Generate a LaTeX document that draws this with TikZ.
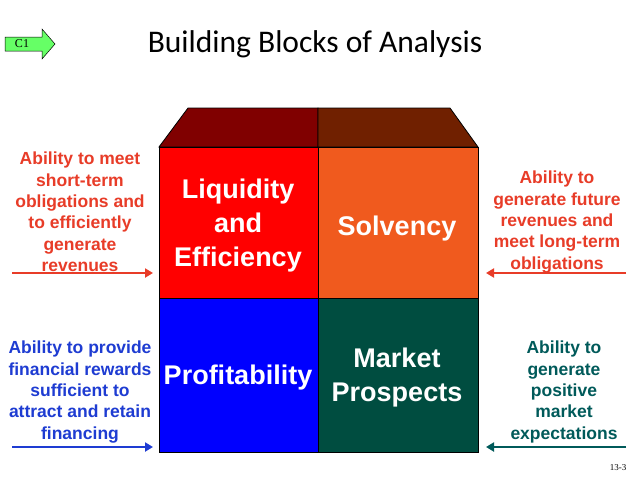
\documentclass[tikz,border=0pt]{standalone}
\usepackage{fontspec}
\setmainfont{Liberation Sans}
\newfontfamily\titlefont{Carlito}
\newfontfamily\serifont{Liberation Serif}
\usetikzlibrary{arrows.meta}
\definecolor{cred}{RGB}{255,0,0}
\definecolor{corange}{RGB}{240,90,30}
\definecolor{cblue}{RGB}{0,0,255}
\definecolor{cteal}{RGB}{0,77,64}
\definecolor{tdark}{RGB}{128,0,0}
\definecolor{tbrown}{RGB}{112,32,0}
\definecolor{tred}{RGB}{232,60,40}
\definecolor{tblue}{RGB}{30,60,210}
\definecolor{tteal}{RGB}{0,90,90}
\definecolor{cgreen}{RGB}{102,255,102}
\begin{document}
\begin{tikzpicture}[x=1pt,y=-1pt,
  blk/.style={draw=black,line width=0.8pt},
  blab/.style={font=\bfseries\fontsize{27}{34}\selectfont,text=white,align=center},
  side/.style={font=\bfseries\fontsize{17.5}{21.4}\selectfont,align=center,inner sep=0pt},
  arr/.style={line width=2.6pt,-{Triangle[length=8pt,width=9pt]}}]
\useasboundingbox (0,0) rectangle (638,479);
\fill[white] (0,0) rectangle (638,479);
% C1 arrow
\draw[fill=cgreen,line width=0.5pt] (5,37)--(42,37)--(42,29)--(55,44)--(42,59)--(42,51)--(5,51)--cycle;
\node (c1) at (22,44) {\serifont\fontsize{12}{14}\selectfont C1};
\node (title) at (315,44) {\titlefont\fontsize{31.5}{36}\selectfont Building Blocks of Analysis};
% top
\draw[blk,fill=tdark] (188,108)--(318,108)--(318,147)--(159,147)--cycle;
\draw[blk,fill=tbrown] (318,108)--(450,108)--(478,147)--(318,147)--cycle;
\draw[blk,fill=cred] (159,147) rectangle (318,298);
\draw[blk,fill=corange] (318,147) rectangle (478,298);
\draw[blk,fill=cblue] (159,298) rectangle (318,452);
\draw[blk,fill=cteal] (318,298) rectangle (478,452);
\node[blab] (liq) at (238,226) {Liquidity\\and\\Efficiency};
\node[blab] (sol) at (397,229) {Solvency};
\node[blab] (pro) at (238,378) {Profitability};
\node[blab] (mkt) at (397,378) {Market\\Prospects};
\node[side,text=tred] (t1) at (80,212) {Ability to meet\\short-term\\obligations and\\to efficiently\\generate\\revenues};
\node[side,text=tred] (t2) at (557,222) {Ability to\\generate future\\revenues and\\meet long-term\\obligations};
\node[side,text=tblue] (t3) at (80,392) {Ability to provide\\financial rewards\\sufficient to\\attract and retain\\financing};
\node[side,text=tteal] (t4) at (564,392) {Ability to\\generate\\positive\\market\\expectations};
\coordinate (a1) at (12,273); \coordinate (a1e) at (153,273);
\coordinate (a2) at (626,273); \coordinate (a2e) at (486,273);
\coordinate (a3) at (12,447); \coordinate (a3e) at (153,447);
\coordinate (a4) at (626,447); \coordinate (a4e) at (486,447);
\draw[arr,draw=tred] (a1)--(a1e);
\draw[arr,draw=tred] (a2)--(a2e);
\draw[arr,draw=tblue] (a3)--(a3e);
\draw[arr,draw=tteal] (a4)--(a4e);
\node (pg) at (618,468) {\serifont\fontsize{9}{10}\selectfont 13-3};
\end{tikzpicture}
\end{document}
